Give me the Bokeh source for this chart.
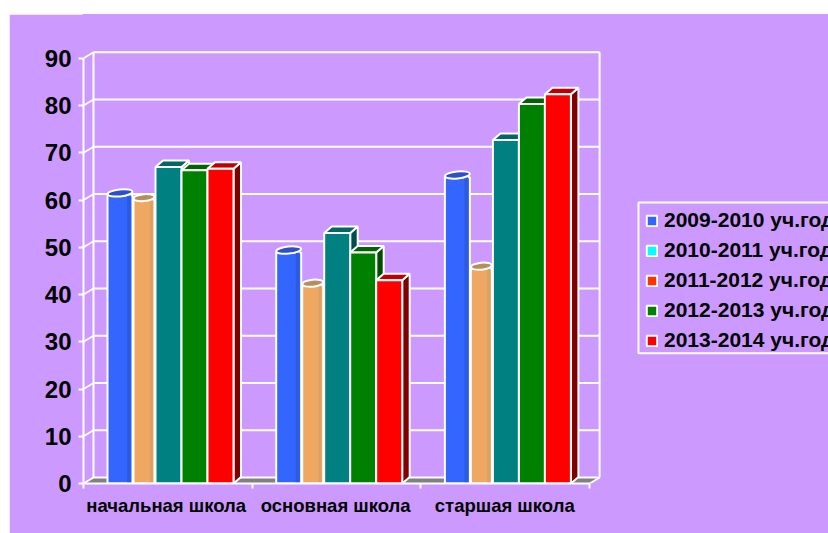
from bokeh.plotting import figure
from bokeh.models import (Range1d, FixedTicker, Legend, LegendItem, ColumnDataSource, BoxAnnotation)
from bokeh.embed import file_html
from bokeh.resources import INLINE

# ---- data ----
categories = ["начальная школа", "основная школа", "старшая школа"]
series_names = ["2009-2010 уч.год.", "2010-2011 уч.год.", "2011-2012 уч.год.",
                "2012-2013 уч.год.", "2013-2014 уч.год."]
legend_colors = ["#3366ff", "#00ffff", "#ff3300", "#008000", "#ff0000"]
v_blue = [61.0, 48.9, 64.8]
v_tan = [60.0, 41.9, 45.5]
v_teal = [67.0, 53.0, 72.7]
v_green = [66.3, 48.9, 80.3]
v_red = [66.6, 43.0, 82.4]
y_ticks = [0, 10, 20, 30, 40, 50, 60, 70, 80, 90]

# ---- styling / geometry (pixel measures converted through the scale) ----
PURPLE = "#cc99ff"
PX_X = 168.7          # pixels per category
PX_Y = 4.725          # pixels per value unit
DX, DY = 10 / PX_X, 6 / PX_Y          # chart depth
BDX, BDY = 7.5 / PX_X, 6.5 / PX_Y     # bar depth
FIRST = 24 / PX_X
lefts = [0, 26, 48, 74, 100]
widths = [25, 21, 26, 26, 26]
label_pos = [0.49, 1.495, 2.497]

p = figure(width=819, height=519, margin=(14, 0, 0, 9),
           output_backend="svg", toolbar_location=None,
           x_range=Range1d(0, (828 - 83) / PX_X),
           y_range=Range1d(0, (483 - 14) / PX_Y),
           min_border_left=74, min_border_right=0, min_border_top=0, min_border_bottom=50,
           background_fill_color=PURPLE, border_fill_color=PURPLE,
           outline_line_color=PURPLE, outline_line_width=2)
p.grid.visible = False

# ---- axes ----
ya = p.yaxis[0]
ya.ticker = FixedTicker(ticks=y_ticks)
ya.bounds = (0, 90)
ya.axis_line_color = "white"; ya.axis_line_width = 2
ya.major_tick_line_color = "white"; ya.major_tick_line_width = 2
ya.major_tick_out = 5; ya.major_tick_in = 0
ya.minor_tick_line_color = None
ya.major_label_text_font = "Liberation Sans"
ya.major_label_text_font_style = "bold"
ya.major_label_text_font_size = "24px"
ya.major_label_text_color = "black"
ya.major_label_standoff = 7

xa = p.xaxis[0]
xa.ticker = FixedTicker(ticks=label_pos, minor_ticks=[0, 1, 2, 3])
xa.major_label_overrides = dict(zip(label_pos, categories))
xa.bounds = (0, 3)
xa.axis_line_color = "white"; xa.axis_line_width = 2
xa.major_tick_line_color = None
xa.minor_tick_line_color = "white"; xa.minor_tick_line_width = 2
xa.minor_tick_out = 5; xa.minor_tick_in = 0
xa.major_label_text_font = "Liberation Sans"
xa.major_label_text_font_style = "bold"
xa.major_label_text_font_size = "18.5px"
xa.major_label_text_color = "black"
xa.major_label_standoff = 5

# ---- walls ----
p.patch([0, DX, 3 + DX, 3], [0, DY, DY, 0], fill_color="#808080", line_color=None)
p.segment(x0=[DX] * len(y_ticks), y0=[v + DY for v in y_ticks],
          x1=[3 + DX] * len(y_ticks), y1=[v + DY for v in y_ticks],
          line_color="white", line_width=2)
p.segment(x0=[0] * len(y_ticks), y0=y_ticks,
          x1=[DX] * len(y_ticks), y1=[v + DY for v in y_ticks],
          line_color="white", line_width=2)
p.segment(x0=[DX, 3 + DX, 3], y0=[DY, DY, 0], x1=[DX, 3 + DX, 3 + DX], y1=[90 + DY, 90 + DY, DY],
          line_color="white", line_width=2)


def box(values, idx, front, top, side):
    l = [i + FIRST + lefts[idx] / PX_X for i in range(3)]
    w = widths[idx] / PX_X
    r = [a + w for a in l]
    p.patches([[b, b + BDX, b + BDX, b] for b in r],
              [[0, BDY, v + BDY, v] for v in values],
              fill_color=side, line_color="white", line_width=2)
    p.patches([[a, a + BDX, b + BDX, b] for a, b in zip(l, r)],
              [[v, v + BDY, v + BDY, v] for v in values],
              fill_color=top, line_color="white", line_width=2)
    p.quad(left=l, right=r, bottom=[0] * 3, top=values,
           fill_color=front, line_color="white", line_width=2)


def cyl(values, idx, front, band, top):
    l = [i + FIRST + lefts[idx] / PX_X for i in range(3)]
    w = widths[idx] / PX_X
    r = [a + w for a in l]
    c = [a + w / 2 for a in l]
    p.quad(left=l, right=r, bottom=[0] * 3, top=values,
           fill_color=front, line_color="white", line_width=2)
    p.quad(left=[a + 0.78 * w for a in l], right=[b - 0.01 for b in r], bottom=[0.2] * 3, top=values,
           fill_color=band, line_color=None)
    p.ellipse(x=c, y=[v + 0.5 for v in values], width=w, height=7 / PX_Y, angle=0.1,
              fill_color=top, line_color="white", line_width=2)


cyl(v_blue, 0, "#3366ff", "#2d5be0", "#2b50c8")
cyl(v_tan, 1, "#eea862", "#dca066", "#b98c5c")
box(v_teal, 2, "#008080", "#006666", "#004d4d")
box(v_green, 3, "#008000", "#006400", "#004d00")
box(v_red, 4, "#ff0000", "#c00000", "#800000")

# ---- legend ----
nan = float("nan")
items = []
for name, col in zip(series_names, legend_colors):
    r = p.quad(left="l", right="r", bottom="b", top="t",
               source=ColumnDataSource(dict(l=[nan], r=[nan], b=[nan], t=[nan])),
               fill_color=col, line_color="white", line_width=2)
    items.append(LegendItem(label=name, renderers=[r]))
legend = Legend(items=items, location=(562, 131), orientation="vertical",
                border_line_color=None, background_fill_alpha=0,
                glyph_width=13, glyph_height=13, label_standoff=6,
                label_text_font="Liberation Sans", label_text_font_style="bold",
                label_text_font_size="21px", label_text_color="black",
                label_height=20, spacing=6, padding=7, margin=0)
p.add_layout(legend)
p.add_layout(BoxAnnotation(left=555, right=900, top=281, bottom=130.3,
                           left_units="screen", right_units="screen",
                           top_units="screen", bottom_units="screen",
                           fill_alpha=0, line_color="white", line_width=2, line_alpha=1))

open("out.html", "w").write(file_html(p, INLINE))
